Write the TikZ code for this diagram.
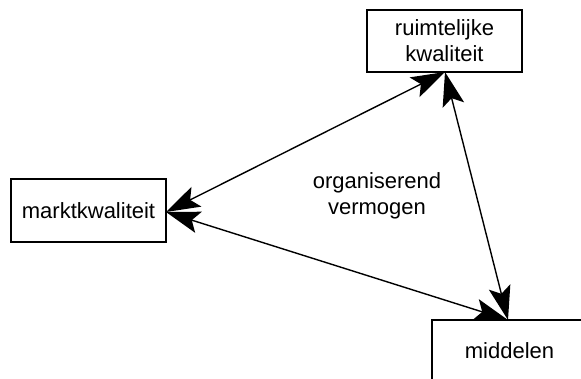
\documentclass[tikz,border=0pt]{standalone}
\usepackage{fontspec}
\setmainfont{Liberation Sans}
\usetikzlibrary{arrows.meta}
\begin{document}
\begin{tikzpicture}[x=1pt,y=-1pt,
  box/.style={draw, line width=1.3pt, minimum width=155pt, minimum height=62pt, inner sep=0pt, align=center, font=\fontsize{22}{26}\selectfont},
  label/.style={align=center, font=\fontsize{22}{25.5}\selectfont},
  link/.style={line width=1.4pt, {Stealth[length=34pt,width=22pt,inset=7pt]}-{Stealth[length=34pt,width=22pt,inset=7pt]}}]
\useasboundingbox (0,0) rectangle (581,378);
\node[box] (r) at (444.5,41) {ruimtelijke\\kwaliteit};
\node[box, minimum height=63pt] (m) at (88.5,210.5) {marktkwaliteit};
\node[box, minimum height=63pt] (d) at (509.5,351.5) {};
\node[label, anchor=base] (dt) at (509.5,358) {middelen};
\node[label] (c) at (377,196) {organiserend\\vermogen};
\coordinate (mE) at (166,212);
\coordinate (rS) at (445,72);
\coordinate (dN) at (508,320);
\draw[link] (mE) -- (rS);
\draw[link] (mE) -- (dN);
\draw[link] (rS) -- (dN);
\end{tikzpicture}
\end{document}
